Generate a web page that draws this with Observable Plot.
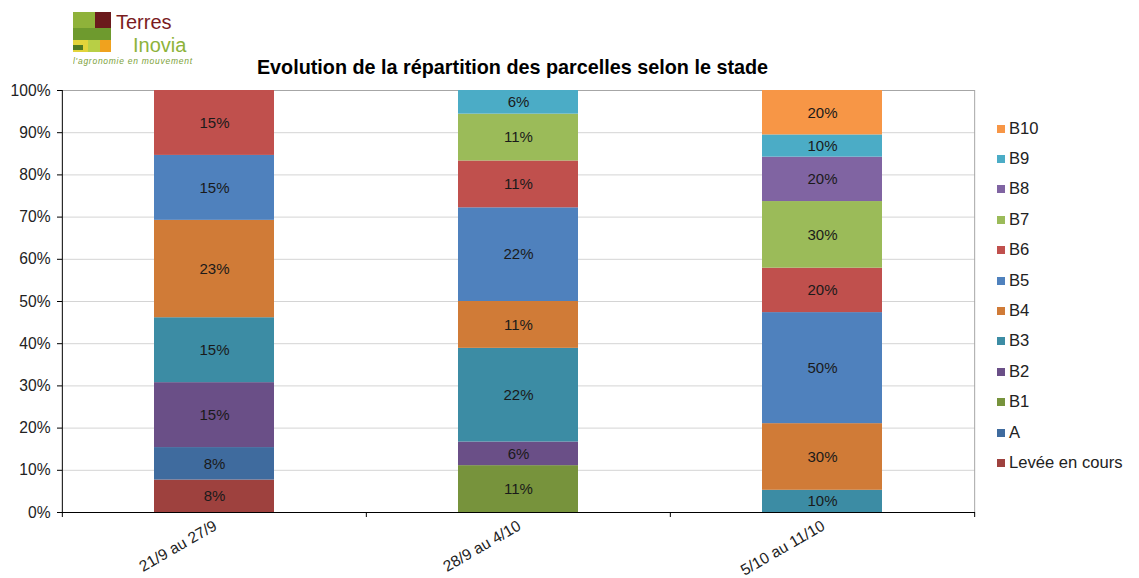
<!DOCTYPE html>
<html>
<head>
<meta charset="utf-8">
<script src="https://cdn.jsdelivr.net/npm/d3@7"></script>
<script src="https://cdn.jsdelivr.net/npm/@observablehq/plot@0.6"></script>
<style>
  html, body { margin: 0; padding: 0; background: #fff; }
  #wrap { position: relative; width: 1139px; height: 578px; font-family: "Liberation Sans", Arial, sans-serif; }
  #chart { position: absolute; left: 0; top: 0; }
  #title { position: absolute; left: 0; width: 1025px; top: 56px; text-align: center; font-weight: bold; font-size: 19.8px; color: #000; }
  #legend { position: absolute; left: 997px; top: 0; }
  .item { position: absolute; left: 0; white-space: nowrap; font-size: 16.6px; color: #222; }
  .sw { position: absolute; left: 0; width: 8px; height: 8px; }
  .lab { position: absolute; left: 12px; }
  #logo { position: absolute; left: 73px; top: 12px; }
</style>
</head>
<body>
<div id="wrap">
  <div id="chart"></div>
  <svg id="logo" width="130" height="56" viewBox="0 0 130 56">
    <rect x="0" y="0" width="22" height="16" fill="#8fb23a"/>
    <rect x="22" y="0" width="16" height="16" fill="#6b1a1c"/>
    <rect x="0" y="16" width="38" height="12" fill="#6e9a2e"/>
    <rect x="0" y="28" width="15" height="12" fill="#e2d43a"/>
    <rect x="0" y="33" width="10" height="5" fill="#4f7a22"/>
    <rect x="15" y="28" width="12" height="12" fill="#b8cf45"/>
    <rect x="27" y="28" width="11" height="12" fill="#f0a21e"/>
    <text x="43" y="17" font-family="Liberation Sans, Arial, sans-serif" font-size="20" fill="#7a1c1e">Terres</text>
    <text x="60" y="40" font-family="Liberation Sans, Arial, sans-serif" font-size="20" fill="#8db33a">Inovia</text>
    <text x="0" y="52" font-family="Liberation Sans, Arial, sans-serif" font-size="8.5" font-style="italic" fill="#7da23a" textLength="119">l'agronomie en mouvement</text>
  </svg>
  <div id="title">Evolution de la répartition des parcelles selon le stade</div>
  <div id="legend"></div>
</div>
<script>
// ---- Data ----
const periods = ["21/9 au 27/9", "28/9 au 4/10", "5/10 au 11/10"];
const stages = ["Levée en cours", "A", "B1", "B2", "B3", "B4", "B5", "B6", "B7", "B8", "B9", "B10"];
const colors = ["#9e413e", "#3f6b9e", "#77933c", "#6a4f87", "#3c8ca4", "#d07b37", "#4f81bd", "#c0504d", "#9bbb59", "#8064a2", "#4bacc6", "#f79646"];
// values per period, in stage order (0 = absent)
const valuesP1 = [7.7, 7.7, 0, 15.4, 15.4, 23.1, 15.4, 15.4, 0, 0, 0, 0];
const valuesP2 = [0, 0, 11.1, 5.6, 22.2, 11.1, 22.2, 11.1, 11.1, 0, 5.6, 0];
const valuesP3 = [0, 0, 0, 0, 10, 30, 50, 20, 30, 20, 10, 20];
const yTicks = [0, 0.1, 0.2, 0.3, 0.4, 0.5, 0.6, 0.7, 0.8, 0.9, 1];

const table = [];
[valuesP1, valuesP2, valuesP3].forEach((vals, pi) => {
  vals.forEach((v, si) => {
    if (v > 0) table.push({period: periods[pi], stage: stages[si], value: v});
  });
});

const W = 1139, H = 578;
const mL = 62, mR = 164, mT = 90, mB = 66;
const step = (W - mL - mR) / periods.length;
const fmt = d3.format(".0f");

const chart = Plot.plot({
  width: W, height: H,
  marginLeft: mL, marginRight: mR, marginTop: mT, marginBottom: mB,
  style: {fontFamily: "Liberation Sans, Arial, sans-serif", background: "#fff"},
  x: {domain: periods, paddingInner: 0.605, paddingOuter: 0.3025, label: null},
  y: {domain: [0, 1], label: null},
  color: {domain: stages, range: colors},
  marks: [
    Plot.gridY(yTicks, {stroke: "#d4d4d4", strokeOpacity: 1}),
    Plot.ruleY([1], {stroke: "#a6a6a6"}),
    Plot.ruleX([periods[periods.length - 1]], {dx: step / 2, stroke: "#a6a6a6"}),
    Plot.barY(table, Plot.stackY({x: "period", y: "value", z: "stage", fill: "stage", order: stages, offset: "normalize"})),
    Plot.text(table, Plot.stackY({x: "period", y: "value", z: "stage", order: stages, offset: "normalize",
      text: d => fmt(d.value) + "%", fill: "#1a1a1a", fontSize: 15})),
    Plot.ruleX([periods[0]], {dx: -step / 2, stroke: "#000"}),
    Plot.ruleY([0], {stroke: "#000", strokeWidth: 1.2}),
    Plot.ruleX(periods, {x: d => d, y1: 0, y2: 0, dx: -step / 2, insetBottom: -5, stroke: "#000"}),
    Plot.ruleX([periods[periods.length - 1]], {y1: 0, y2: 0, dx: step / 2, insetBottom: -5, stroke: "#000"}),
    Plot.axisY({ticks: yTicks, tickFormat: d3.format(".0%"), tickSize: 5, tickPadding: 7, fontSize: 15.6, stroke: "#000", color: "#222"}),
    Plot.axisX({tickSize: 0, tickRotate: -30, fontSize: 15.6, tickPadding: 12, dx: 1, color: "#222"})
  ]
});
document.getElementById("chart").appendChild(chart);

// ---- Legend (top item = B10) ----
const legend = document.getElementById("legend");
stages.slice().reverse().forEach((s, i) => {
  const idx = stages.indexOf(s);
  const cy = 128 + i * 30.4;
  const it = document.createElement("div");
  it.className = "item";
  it.style.top = (cy - 9.5) + "px";
  it.innerHTML = `<span class="sw" style="top:6px;background:${colors[idx]}"></span><span class="lab">${s}</span>`;
  legend.appendChild(it);
});
</script>
</body>
</html>
